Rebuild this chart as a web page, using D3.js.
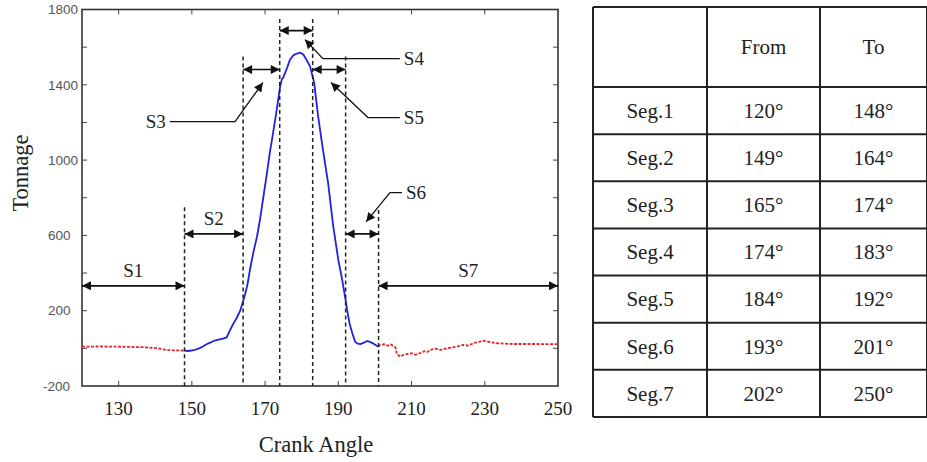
<!DOCTYPE html>
<html>
<head>
<meta charset="utf-8">
<script src="https://cdn.jsdelivr.net/npm/d3@7"></script>
<style>
  body { margin: 0; background: #fff; }
  svg { display: block; }
</style>
</head>
<body>
<div id="chart"></div>
<script>
// Tonnage curve (angle in degrees, tonnage)
const startAngles = [120, 125, 130, 134, 137, 140.4, 143.2, 146, 148];
const startTonnage = [9, 10, 9, 7, 6, 1, -9, -11, -12];

const pressAngles = [148, 149, 150.5, 152, 153, 154, 155, 156, 157, 158.5, 159.5, 160.4, 161.3, 162.2, 163.2, 164,
    164.5, 165.2, 165.9, 166.8, 167.8, 168.6, 169.5, 170.5, 171.3, 172.2, 173.2, 174.1, 174.6, 175, 176, 176.8,
    177.8, 178.7, 179.6, 180.5, 181.4, 182.3, 183.4, 184.5, 185.8, 187.2, 188.6, 189.3, 190, 191, 191.9, 192.4,
    193.1, 193.8, 194.6, 195.3, 196, 197, 197.9, 198.6, 199.2, 200, 200.9];
const pressTonnage = [-12, -14, -10, 0, 10, 22, 30, 40, 45, 52, 58, 95, 130, 160, 200, 250,
    285, 340, 420, 510, 594, 683, 800, 930, 1040, 1146, 1270, 1390, 1430, 1440, 1490, 1534,
    1558, 1566, 1571, 1560, 1530, 1497, 1412, 1231, 1055, 880, 650, 560, 470, 370, 268, 204,
    130, 82, 35, 25, 23, 30, 39, 34, 29, 20, 9];

const endAngles = [200.9, 201.4, 202.5, 203.5, 204.3, 205, 205.6, 206, 206.9, 207.8, 208.8, 210, 211, 212.3, 213.5,
    214.3, 215.1, 216.5, 218, 219.7, 221, 222.5, 224.1, 225.5, 227, 228.5, 229.6, 231, 233.4, 237.8, 244, 249.7];
const endTonnage = [9, 18, 22, 14, 20, 13, 5, -30, -44, -35, -30, -26, -34, -26, -15,
    -20, -8, -2, -8, 0, 5, 10, 18, 15, 28, 35, 41, 35, 27, 23, 23, 22];

// Segment boundaries (dashed lines) and how high each line reaches
const boundaryAngles = [148, 164, 174, 183, 192, 201];
const boundaryTops = [750, 1550, 1750, 1750, 1550, 735];

// Segment arrows
const segNames = ["S1", "S2", "S3", "S4", "S5", "S6", "S7"];
const segFrom = [120, 148, 164, 174, 183, 192, 201];
const segTo = [148, 164, 174, 183, 192, 201, 250];
const segLevel = [332, 608, 1481, 1688, 1481, 608, 332];

// Callout leaders for the narrow segments: [label side, elbow, tip] in data units
const callouts = [
    {name: "S3", anchor: "end", pts: [[144.0, 1204], [161.8, 1204], [169.4, 1412]]},
    {name: "S4", anchor: "start", pts: [[206.8, 1539], [185.8, 1539], [180.9, 1640]]},
    {name: "S5", anchor: "start", pts: [[206.8, 1226], [198.1, 1226], [188.0, 1412]]},
    {name: "S6", anchor: "start", pts: [[207.4, 827], [204.1, 827], [197.6, 672]]}
];

// Table
const tableHeader = ["", "From", "To"];
const tableRows = ["Seg.1", "Seg.2", "Seg.3", "Seg.4", "Seg.5", "Seg.6", "Seg.7"];
const tableFrom = ["120°", "149°", "165°", "174°", "184°", "193°", "202°"];
const tableTo = ["148°", "164°", "174°", "183°", "192°", "201°", "250°"];

const xTicks = [130, 150, 170, 190, 210, 230, 250];
const yTicks = [-200, 0, 200, 400, 600, 800, 1000, 1200, 1400, 1600, 1800];
const yLabels = [-200, 200, 600, 1000, 1400, 1800];

const width = 927;
const height = 462;
const serif = "'Liberation Serif'";

const svg = d3.select("#chart").append("svg")
    .attr("width", width).attr("height", height);

const x = d3.scaleLinear().domain([120, 250]).range([82, 558]);
const y = d3.scaleLinear().domain([-200, 1800]).range([386, 9.5]);

// Arrowhead marker
svg.append("defs").append("marker")
    .attr("id", "head")
    .attr("viewBox", "0 0 10 10")
    .attr("refX", 10).attr("refY", 5)
    .attr("markerUnits", "userSpaceOnUse")
    .attr("markerWidth", 11).attr("markerHeight", 9)
    .attr("orient", "auto-start-reverse")
    .append("path").attr("d", "M0,0L10,5L0,10z").attr("fill", "#111");

// Frame
svg.append("rect")
    .attr("x", x(120)).attr("y", y(1800))
    .attr("width", x(250) - x(120)).attr("height", y(-200) - y(1800))
    .attr("fill", "none").attr("stroke", "#333").attr("stroke-width", 1.6);

// Ticks, pointing inwards on all four sides
const ticks = svg.append("g").attr("stroke", "#444").attr("stroke-width", 1);
ticks.selectAll(".xb").data(xTicks.filter(d => d < 250)).join("line")
    .attr("x1", d => x(d)).attr("x2", d => x(d))
    .attr("y1", y(-200)).attr("y2", y(-200) - 5);
ticks.selectAll(".xt").data(xTicks.filter(d => d < 250)).join("line")
    .attr("x1", d => x(d)).attr("x2", d => x(d))
    .attr("y1", y(1800)).attr("y2", y(1800) + 5);
ticks.selectAll(".yl").data(yTicks.slice(1, -1)).join("line")
    .attr("x1", x(120)).attr("x2", x(120) + 5)
    .attr("y1", d => y(d)).attr("y2", d => y(d));
ticks.selectAll(".yr").data(yTicks.slice(1, -1)).join("line")
    .attr("x1", x(250)).attr("x2", x(250) - 5)
    .attr("y1", d => y(d)).attr("y2", d => y(d));

// Tick labels
svg.append("g").selectAll("text").data(xTicks).join("text")
    .attr("font-family", serif)
    .attr("x", d => x(d)).attr("y", y(-200) + 29)
    .attr("text-anchor", "middle")
    .attr("font-size", 19).attr("fill", "#222")
    .text(d => d);

svg.append("g").selectAll("text").data(yLabels).join("text")
    .attr("x", 48).attr("dx", d => d < 0 ? -5 : 0)
    .attr("y", d => y(d)).attr("dy", "0.35em")
    .attr("font-family", "'Liberation Sans'")
    .attr("font-size", 13.5).attr("fill", "#555")
    .text(d => d);

// Axis titles
svg.append("text")
    .attr("font-family", serif)
    .attr("x", 316).attr("y", 452)
    .attr("text-anchor", "middle")
    .attr("font-size", 22.5).attr("fill", "#222")
    .text("Crank Angle");

svg.append("text")
    .attr("font-family", serif)
    .attr("transform", "translate(28,173) rotate(-90)")
    .attr("text-anchor", "middle")
    .attr("font-size", 22.5).attr("fill", "#222")
    .text("Tonnage");

// Tonnage curve
const line = d3.line().x(d => x(d[0])).y(d => y(d[1]));
const zip = (a, b) => a.map((v, i) => [v, b[i]]);

svg.append("path").datum(zip(startAngles, startTonnage))
    .attr("d", line).attr("fill", "none")
    .attr("stroke", "#e8222a").attr("stroke-width", 1.8).attr("stroke-dasharray", "3,1.5");
svg.append("path").datum(zip(endAngles, endTonnage))
    .attr("d", line).attr("fill", "none")
    .attr("stroke", "#e8222a").attr("stroke-width", 1.8).attr("stroke-dasharray", "3,1.5");
svg.append("path").datum(zip(pressAngles, pressTonnage))
    .attr("d", line).attr("fill", "none")
    .attr("stroke", "#1f22e0").attr("stroke-width", 1.8);

// Segment boundaries
svg.append("g").selectAll("line").data(boundaryAngles).join("line")
    .attr("x1", d => x(d)).attr("x2", d => x(d))
    .attr("y1", (d, i) => y(boundaryTops[i])).attr("y2", y(-200))
    .attr("stroke", "#222").attr("stroke-width", 1.5).attr("stroke-dasharray", "4,3");

// Segment arrows
svg.append("g").selectAll("line").data(segNames).join("line")
    .attr("x1", (d, i) => x(segFrom[i])).attr("x2", (d, i) => x(segTo[i]))
    .attr("y1", (d, i) => y(segLevel[i])).attr("y2", (d, i) => y(segLevel[i]))
    .attr("stroke", "#111").attr("stroke-width", 1.6)
    .attr("marker-start", "url(#head)").attr("marker-end", "url(#head)");

// Labels straight above the wide arrows
const plainLabels = [0, 1, 6];
svg.append("g").selectAll("text").data(plainLabels).join("text")
    .attr("font-family", serif)
    .attr("x", i => x((segFrom[i] + segTo[i]) / 2))
    .attr("y", i => y(segLevel[i]) - 9)
    .attr("text-anchor", "middle")
    .attr("font-size", 19).attr("fill", "#222")
    .text(i => segNames[i]);

// Callouts
const co = svg.append("g");
co.selectAll("path").data(callouts).join("path")
    .attr("d", d => d3.line().x(p => x(p[0])).y(p => y(p[1]))(d.pts))
    .attr("fill", "none").attr("stroke", "#111").attr("stroke-width", 1.3)
    .attr("marker-end", "url(#head)");
co.selectAll("text").data(callouts).join("text")
    .attr("font-family", serif)
    .attr("x", d => x(d.pts[0][0]) + (d.anchor === "end" ? -4 : 4))
    .attr("y", d => y(d.pts[0][1])).attr("dy", "0.35em")
    .attr("text-anchor", d => d.anchor)
    .attr("font-size", 19).attr("fill", "#222")
    .text(d => d.name);

// Table on the right
const colX = [593, 707, 820, 927];
const rowY = [7, 87].concat(tableRows.map((d, i) => 87 + (i + 1) * (417 - 87) / tableRows.length));
const table = svg.append("g");
table.selectAll(".h").data(rowY).join("line")
    .attr("x1", colX[0]).attr("x2", colX[3])
    .attr("y1", d => d).attr("y2", d => d)
    .attr("stroke", "#222").attr("stroke-width", 2);
table.selectAll(".v").data(colX).join("line")
    .attr("x1", d => d).attr("x2", d => d)
    .attr("y1", rowY[0]).attr("y2", rowY[rowY.length - 1])
    .attr("stroke", "#222").attr("stroke-width", 2);

const cells = [tableHeader].concat(tableRows.map((r, i) => [r, tableFrom[i], tableTo[i]]));
cells.forEach((row, r) => {
    table.selectAll(".r" + r).data(row).join("text")
        .attr("font-family", serif)
        .attr("x", (d, c) => (colX[c] + colX[c + 1]) / 2)
        .attr("y", (rowY[r] + rowY[r + 1]) / 2).attr("dy", "0.35em")
        .attr("text-anchor", "middle")
        .attr("font-size", 21).attr("fill", "#222")
        .text(d => d);
});
</script>
</body>
</html>
